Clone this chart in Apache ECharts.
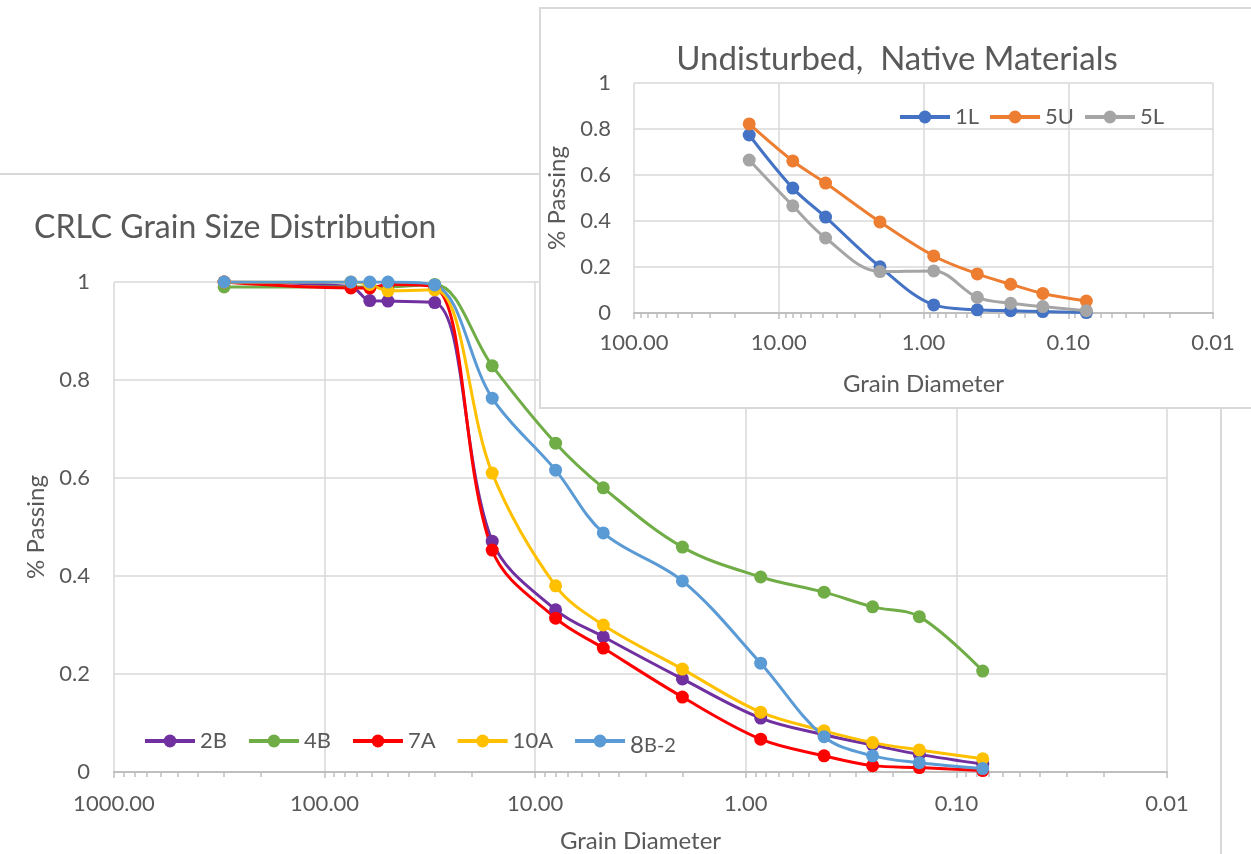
<!DOCTYPE html>
<html>
<head>
<meta charset="utf-8">
<title>CRLC Grain Size Distribution</title>
<script src="https://cdn.jsdelivr.net/npm/echarts@6/dist/echarts.min.js"></script>
<style>
	body { margin: 0; background: #fff; overflow: hidden; }
	#frame { position: absolute; left: -4px; top: 173px; width: 1226px; height: 720px; border: 2px solid #d9d9d9; box-sizing: border-box; }
	#main { position: absolute; left: 0; top: 0; width: 1251px; height: 854px; }
	#inset { position: absolute; left: 539px; top: 7px; width: 716px; height: 402px; border: 2px solid #d9d9d9; box-sizing: border-box; background: #fff; }
</style>
</head>
<body>
<div id="frame"></div>
<div id="main"></div>
<div id="inset"></div>
<script>
// sieve sizes (mm), main chart
var sieve = [300, 75, 61, 50, 30, 16, 8, 4.75, 2, 0.85, 0.425, 0.25, 0.15, 0.075];
var s2B  = [1.0, 0.99, 0.962, 0.961, 0.958, 0.471, 0.331, 0.276, 0.190, 0.110, 0.076, 0.055, 0.036, 0.016];
var s4B  = [0.99, 0.99, 0.99, 0.99, 0.995, 0.829, 0.671, 0.580, 0.459, 0.398, 0.367, 0.337, 0.317, 0.206];
var s7A  = [1.0, 0.988, 0.988, 0.995, 0.99, 0.453, 0.314, 0.253, 0.153, 0.067, 0.033, 0.013, 0.009, 0.003];
var s10A = [1.0, 1.0, 0.995, 0.982, 0.984, 0.610, 0.380, 0.300, 0.210, 0.122, 0.084, 0.060, 0.045, 0.027];
var s8B2 = [1.0, 1.0, 1.0, 1.0, 0.994, 0.763, 0.616, 0.488, 0.390, 0.222, 0.072, 0.033, 0.019, 0.007];

// inset chart
var sieveNative = [16, 8, 4.75, 2, 0.85, 0.425, 0.25, 0.15, 0.075];
var s1L = [0.774, 0.543, 0.417, 0.201, 0.035, 0.014, 0.010, 0.006, 0.002];
var s5U = [0.822, 0.661, 0.565, 0.396, 0.248, 0.170, 0.125, 0.085, 0.052];
var s5L = [0.665, 0.466, 0.326, 0.180, 0.183, 0.068, 0.042, 0.028, 0.010];

var textColor = '#595959';
var font = 'Lato';

function pairs(xs, ys) {
	return xs.map(function (x, i) { return [x, ys[i]]; });
}

function lineSeries(name, xs, ys, color) {
	return {
		name: name,
		type: 'line',
		data: pairs(xs, ys),
		smooth: 0.35,
		symbol: 'circle',
		symbolSize: 13,
		lineStyle: { width: 3, color: color },
		itemStyle: { color: color },
		emphasis: { disabled: true }
	};
}

function xAxisOpt(min, max, labelMargin, nameGap) {
	return {
		type: 'log',
		logBase: 10,
		min: min,
		max: max,
		inverse: true,
		name: 'Grain Diameter',
		nameLocation: 'middle',
		nameGap: nameGap,
		nameTextStyle: { color: textColor, fontFamily: font, fontSize: 24 },
		axisLine: { show: true, lineStyle: { color: '#bfbfbf', width: 2 } },
		axisTick: { show: true, length: 6, lineStyle: { color: '#bfbfbf', width: 1.5 } },
		minorTick: { show: true, splitNumber: 9, length: 5, lineStyle: { color: '#bfbfbf', width: 1.5 } },
		splitLine: { show: true, lineStyle: { color: '#d9d9d9', width: 1.5 } },
		axisLabel: {
			color: textColor, fontFamily: font, fontSize: 22, margin: labelMargin,
			formatter: function (v) { return v.toFixed(2); }
		}
	};
}

function yAxisOpt(labelMargin, nameGap) {
	return {
		type: 'value',
		min: 0,
		max: 1,
		interval: 0.2,
		name: '% Passing',
		nameLocation: 'middle',
		nameGap: nameGap,
		nameTextStyle: { color: textColor, fontFamily: font, fontSize: 24 },
		axisLine: { show: false },
		axisTick: { show: false },
		splitLine: { show: true, lineStyle: { color: '#d9d9d9', width: 1.5 } },
		axisLabel: { color: textColor, fontFamily: font, fontSize: 22, margin: labelMargin }
	};
}

var mainChart = echarts.init(document.getElementById('main'));
mainChart.setOption({
	animation: false,
	title: {
		text: 'CRLC Grain Size Distribution',
		left: 34,
		top: 212,
		padding: 0,
		textStyle: { color: textColor, fontFamily: font, fontSize: 32, fontWeight: 'normal' }
	},
	legend: {
		left: 143,
		top: 730,
		padding: 0,
		itemWidth: 50,
		itemHeight: 16,
		itemGap: 20,
		lineStyle: { width: 4 },
		formatter: function (name) {
			return name === '8B-2' ? '{a|8}{b|B-2}' : name;
		},
		textStyle: {
			color: textColor, fontFamily: font, fontSize: 22,
			rich: {
				a: { color: textColor, fontFamily: font, fontSize: 24, padding: [8, 0, 0, 0] },
				b: { color: textColor, fontFamily: font, fontSize: 20, padding: [10, 0, 0, 0] }
			}
		}
	},
	grid: { left: 114, top: 282, width: 1053, height: 490, outerBoundsMode: 'none' },
	xAxis: xAxisOpt(0.01, 1000, 21, 57),
	yAxis: yAxisOpt(24, 62),
	series: [
		lineSeries('2B', sieve, s2B, '#7030A0'),
		lineSeries('4B', sieve, s4B, '#70AD47'),
		lineSeries('7A', sieve, s7A, '#FF0000'),
		lineSeries('10A', sieve, s10A, '#FFC000'),
		lineSeries('8B-2', sieve, s8B2, '#5B9BD5')
	]
});

var insetChart = echarts.init(document.getElementById('inset'));
insetChart.setOption({
	animation: false,
	title: {
		text: 'Undisturbed,  Native Materials',
		left: 'center',
		top: 34,
		padding: 0,
		textStyle: { color: textColor, fontFamily: font, fontSize: 33, fontWeight: 'normal' }
	},
	legend: {
		left: 357,
		top: 97,
		padding: 0,
		itemWidth: 50,
		itemHeight: 16,
		itemGap: 9,
		lineStyle: { width: 4 },
		textStyle: { color: textColor, fontFamily: font, fontSize: 22 }
	},
	grid: { left: 93, top: 74, width: 579, height: 230, outerBoundsMode: 'none' },
	xAxis: xAxisOpt(0.01, 100, 19, 59),
	yAxis: yAxisOpt(23, 60),
	series: [
		lineSeries('1L', sieveNative, s1L, '#4472C4'),
		lineSeries('5U', sieveNative, s5U, '#ED7D31'),
		lineSeries('5L', sieveNative, s5L, '#A5A5A5')
	]
});
</script>
</body>
</html>
